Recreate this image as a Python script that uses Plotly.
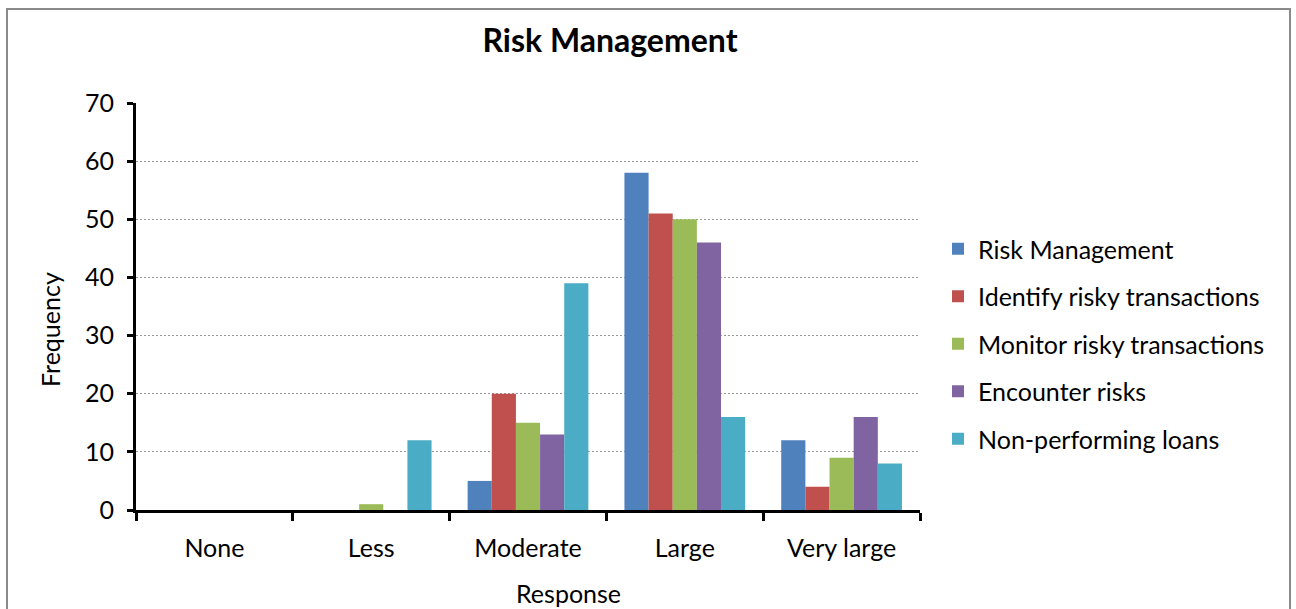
import plotly.graph_objects as go

categories = ["None", "Less", "Moderate", "Large", "Very large"]
series_names = [
    "Risk Management",
    "Identify risky transactions",
    "Monitor risky transactions",
    "Encounter risks",
    "Non-performing loans",
]
risk_management = [0, 0, 5, 58, 12]
identify_risky = [0, 0, 20, 51, 4]
monitor_risky = [0, 1, 15, 50, 9]
encounter_risks = [0, 0, 13, 46, 16]
non_performing = [0, 12, 39, 16, 8]
y_ticks = [0, 10, 20, 30, 40, 50, 60, 70]

series_values = [risk_management, identify_risky, monitor_risky, encounter_risks, non_performing]
colors = ["#4F81BD", "#C0504D", "#9BBB59", "#8064A2", "#4BACC6"]

FONT = "Lato, Open Sans, sans-serif"
W, H = 1296, 609
L, R, T, B = 136, 376, 103, 99
pw, ph = W - L - R, H - T - B

fig = go.Figure()
for i, (name, vals, col) in enumerate(zip(series_names, series_values, colors)):
    fig.add_trace(go.Bar(
        x=categories, y=vals, name=name,
        marker=dict(color=col, line=dict(width=0)),
        legendgroup=f"g{i}",
    ))

# outer chart border
fig.add_shape(
    type="rect", xref="paper", yref="paper",
    x0=(7 - L) / pw, x1=(1290 - L) / pw,
    y0=-(640 - (H - B)) / ph, y1=1 + (T - 9) / ph,
    line=dict(color="#8a8a8a", width=2), fillcolor="rgba(0,0,0,0)", layer="below",
)

# axis titles placed as paper annotations
fig.add_annotation(text="Response", xref="paper", yref="paper",
                   x=(568 - L) / pw, y=-(593 - (H - B)) / ph,
                   xanchor="center", yanchor="middle", showarrow=False,
                   font=dict(size=25, family=FONT, color="black"))
fig.add_annotation(text="Frequency", xref="paper", yref="paper",
                   x=-(136 - 50) / pw, y=(H - B - 330) / ph, textangle=-90,
                   xanchor="center", yanchor="middle", showarrow=False,
                   font=dict(size=25, family=FONT, color="black"))

fig.update_layout(
    width=W, height=H,
    margin=dict(l=L, r=R, t=T, b=B, autoexpand=False),
    paper_bgcolor="white", plot_bgcolor="white",
    barmode="group", bargap=0.23, bargroupgap=0,
    font=dict(family=FONT, size=25, color="black"),
    title=dict(text="<b>Risk Management</b>", x=610 / W, xanchor="center",
               y=1 - 41 / H, yanchor="middle", font=dict(size=32, family=FONT)),
    legend=dict(x=(938 - L) / pw, xanchor="left", y=(H - B - 344) / ph, yanchor="middle",
                traceorder="grouped", tracegroupgap=12,
                font=dict(size=25, family=FONT), itemwidth=30),
    showlegend=True,
    xaxis=dict(
        automargin=False,
        showline=True, linecolor="black", linewidth=3,
        ticks="outside", tickson="boundaries", ticklen=8, tickwidth=3, tickcolor="black",
        ticklabelstandoff=14,
        showgrid=False,
    ),
    yaxis=dict(
        automargin=False,
        range=[0, 70], tickvals=y_ticks,
        showline=True, linecolor="black", linewidth=3,
        ticks="outside", ticklen=6, tickwidth=3, tickcolor="black",
        ticklabelstandoff=8,
        showgrid=True, gridcolor="#999999", griddash="2px,2px", gridwidth=1,
        zeroline=False,
    ),
)

fig.write_html("out.html")
